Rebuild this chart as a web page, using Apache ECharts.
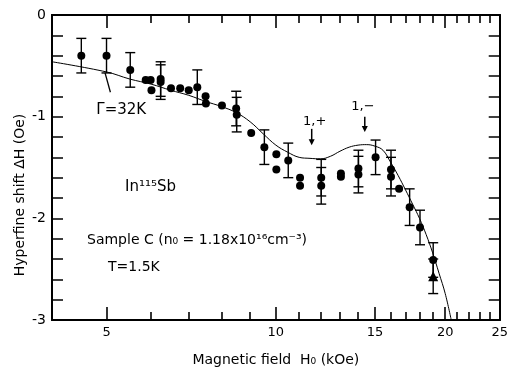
<!DOCTYPE html>
<html>
<head>
<meta charset="utf-8">
<style>
  html, body { margin: 0; padding: 0; background: #fff; }
  #chart { width: 511px; height: 372px; }
</style>
<script src="https://cdn.jsdelivr.net/npm/echarts@6/dist/echarts.min.js"></script>
</head>
<body>
<div id="chart"></div>
<script>
// measured points (circles), field in kOe, shift in Oe, error half-width (0 = no bar)
const pointField = [4.51, 5.00, 5.51, 5.87, 5.99, 6.01, 6.24, 6.24, 6.51, 6.76, 7.00, 7.25, 7.50, 7.51, 8.02, 8.50, 8.52, 9.04, 9.54, 10.02, 10.02, 10.52, 11.04, 11.04, 12.04, 12.04, 13.05, 13.05, 14.02, 14.02, 15.04, 16.02, 16.02, 16.56, 17.29, 18.04, 19.04];
const pointShift = [-0.40, -0.40, -0.54, -0.64, -0.64, -0.74, -0.63, -0.66, -0.72, -0.72, -0.74, -0.71, -0.80, -0.87, -0.89, -0.92, -0.98, -1.16, -1.30, -1.37, -1.52, -1.43, -1.60, -1.68, -1.60, -1.68, -1.56, -1.59, -1.51, -1.57, -1.40, -1.52, -1.59, -1.71, -1.89, -2.09, -2.41];
const pointError = [0.17, 0.17, 0.17, 0, 0, 0, 0.17, 0.17, 0, 0, 0, 0.17, 0, 0, 0, 0.17, 0.17, 0, 0.17, 0, 0, 0.17, 0, 0, 0.18, 0.18, 0, 0, 0.18, 0.18, 0.17, 0.19, 0.19, 0, 0.18, 0.17, 0.17];

// triangle point
const triField = [19.04];
const triShift = [-2.57];
const triError = [0.17];

// theory curve (Gamma = 32 K)
const curveField = [4.0, 5.0, 5.5, 6.0, 6.5, 7.0, 7.5, 8.0, 8.5, 9.0, 9.5, 10.0, 10.5, 11.0, 11.5, 12.0, 12.5, 13.0, 13.5, 14.0, 14.5, 15.0, 15.5, 16.0, 16.5, 17.0, 17.5, 18.0, 18.5, 19.0, 19.5, 20.0, 20.5];
const curveShift = [-0.46, -0.56, -0.63, -0.68, -0.74, -0.79, -0.85, -0.90, -0.96, -1.05, -1.17, -1.28, -1.35, -1.40, -1.41, -1.415, -1.39, -1.34, -1.30, -1.28, -1.275, -1.29, -1.33, -1.45, -1.58, -1.72, -1.86, -2.00, -2.16, -2.34, -2.54, -2.74, -3.0];

// axis ticks
const xMajorTicks = [5, 10, 15, 20, 25];
const xMinorTicks = [4, 6, 7, 8, 9, 11, 12, 13, 14, 16, 17, 18, 19, 21, 22, 23, 24];

const font = 'DejaVu Sans';
const chart = echarts.init(document.getElementById('chart'));

function zip3(a, b, c) {
  return a.map((v, i) => [v, b[i], c[i]]);
}

function renderErrorBar(params, api) {
  const x = api.value(0), y = api.value(1), e = api.value(2);
  const top = api.coord([x, y + e]);
  const bot = api.coord([x, y - e]);
  const w = 5;
  const style = { stroke: '#000', lineWidth: 1.4 };
  return {
    type: 'group',
    children: [
      { type: 'line', shape: { x1: top[0], y1: top[1], x2: bot[0], y2: bot[1] }, style },
      { type: 'line', shape: { x1: top[0] - w, y1: top[1], x2: top[0] + w, y2: top[1] }, style },
      { type: 'line', shape: { x1: bot[0] - w, y1: bot[1], x2: bot[0] + w, y2: bot[1] }, style }
    ]
  };
}

// onZero off: y runs -3..0, so the x axes would otherwise jump to the top edge
const axisLineStyle = { show: true, onZero: false, lineStyle: { color: '#000', width: 2 } };

function logX(position, ticks, len, extra) {
  return Object.assign({
    type: 'log',
    logBase: 10,
    min: 4,
    max: 25,
    position: position,
    splitLine: { show: false },
    axisLine: axisLineStyle,
    axisTick: { show: true, inside: true, length: len, customValues: ticks, lineStyle: { color: '#000', width: 1.6 } },
    axisLabel: { show: false }
  }, extra || {});
}

function linY(position, extra) {
  return Object.assign({
    type: 'value',
    min: -3,
    max: 0,
    interval: 1,
    position: position,
    splitLine: { show: false },
    axisLine: axisLineStyle,
    axisTick: { inside: true, length: 11, lineStyle: { color: '#000', width: 1.5 } },
    minorTick: { show: true, splitNumber: 5, length: 11, lineStyle: { color: '#000', width: 1.5 } },
    axisLabel: { show: false }
  }, extra || {});
}

const option = {
  backgroundColor: '#fff',
  animation: false,
  grid: { left: 52, right: 11, top: 15, bottom: 49 },
  xAxis: [
    logX('bottom', xMajorTicks, 13, {
      axisLabel: { customValues: xMajorTicks, color: '#000', fontFamily: font, fontSize: 13, margin: 6 },
      name: 'Magnetic field  H\u2080 (kOe)',
      nameLocation: 'middle',
      nameGap: 33,
      nameTextStyle: { color: '#000', fontFamily: font, fontSize: 14 }
    }),
    logX('top', xMajorTicks, 13),
    logX('bottom', xMinorTicks, 8),
    logX('top', xMinorTicks, 8)
  ],
  yAxis: [
    linY('left', { axisLabel: { color: '#000', fontFamily: font, fontSize: 14, margin: 6 } }),
    linY('right')
  ],
  series: [
    {
      type: 'line',
      data: curveField.map((x, i) => [x, curveShift[i]]),
      smooth: 0.4,
      showSymbol: false,
      lineStyle: { color: '#000', width: 1 },
      z: 2
    },
    {
      type: 'custom',
      renderItem: renderErrorBar,
      encode: { x: 0, y: 1 },
      data: zip3(pointField, pointShift, pointError).concat(zip3(triField, triShift, triError)).filter(d => d[2] > 0),
      z: 3
    },
    {
      type: 'scatter',
      data: pointField.map((x, i) => [x, pointShift[i]]),
      symbol: 'circle',
      symbolSize: 8,
      itemStyle: { color: '#000', opacity: 1 },
      z: 4
    },
    {
      type: 'scatter',
      data: triField.map((x, i) => [x, triShift[i]]),
      symbol: 'triangle',
      symbolSize: 10,
      itemStyle: { color: '#000', opacity: 1 },
      z: 4
    }
  ]
};

chart.setOption(option);

// annotations tied to data coordinates
const px = (x, y) => chart.convertToPixel({ xAxisIndex: 0, yAxisIndex: 0 }, [x, y]);
const txt = { fill: '#000', fontFamily: font };

const gPtr0 = px(5.08, -0.76), gPtr1 = px(4.97, -0.57);
const gLab = px(5.31, -0.935);
const pPlus = px(11.72, -1.05), aPlus0 = px(11.58, -1.12), aPlus1 = px(11.58, -1.28);
const pMinus = px(14.28, -0.90), aMinus0 = px(14.39, -1.00), aMinus1 = px(14.39, -1.15);

function arrow(p0, p1) {
  return [
    { type: 'line', shape: { x1: p0[0], y1: p0[1], x2: p1[0], y2: p1[1] - 3 }, style: { stroke: '#000', lineWidth: 1.5 } },
    { type: 'polygon', shape: { points: [[p1[0] - 3, p1[1] - 6], [p1[0] + 3, p1[1] - 6], [p1[0], p1[1]]] }, style: { fill: '#000' } }
  ];
}

chart.setOption({
  graphic: [
    { type: 'line', shape: { x1: gPtr0[0], y1: gPtr0[1], x2: gPtr1[0], y2: gPtr1[1] }, style: { stroke: '#000', lineWidth: 1.3 } },
    { type: 'text', x: gLab[0], y: gLab[1], style: Object.assign({ text: '\u0393=32K', fontSize: 15, align: 'center', verticalAlign: 'middle' }, txt) },
    { type: 'text', x: pPlus[0], y: pPlus[1], style: Object.assign({ text: '1,+', fontSize: 13, align: 'center', verticalAlign: 'middle' }, txt) },
    { type: 'text', x: pMinus[0], y: pMinus[1], style: Object.assign({ text: '1,\u2212', fontSize: 13, align: 'center', verticalAlign: 'middle' }, txt) }
  ].concat(arrow(aPlus0, aPlus1), arrow(aMinus0, aMinus1), [
    { type: 'text', x: 125, y: 187, style: Object.assign({ text: 'In\u00b9\u00b9\u2075Sb', fontSize: 15, verticalAlign: 'middle' }, txt) },
    { type: 'text', x: 87, y: 240, style: Object.assign({ text: 'Sample C (n\u2080 = 1.18x10\u00b9\u2076cm\u207b\u00b3)', fontSize: 14, verticalAlign: 'middle' }, txt) },
    { type: 'text', x: 108, y: 267, style: Object.assign({ text: 'T=1.5K', fontSize: 14, verticalAlign: 'middle' }, txt) },
    { type: 'text', x: 20, y: 195, rotation: Math.PI / 2, style: Object.assign({ text: 'Hyperfine shift \u0394H (Oe)', fontSize: 14, align: 'center', verticalAlign: 'middle' }, txt) }
  ])
});
</script>
</body>
</html>
